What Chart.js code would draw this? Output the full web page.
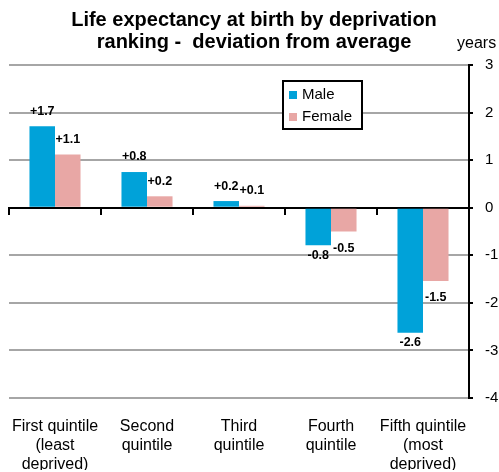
<!DOCTYPE html>
<html>
<head>
<meta charset="utf-8">
<script src="https://cdn.jsdelivr.net/npm/chart.js@4"></script>
<style>
  body { margin: 0; background: #fff; }
  #wrap { position: relative; width: 499px; height: 472px; }
</style>
</head>
<body>
<div id="wrap"><canvas id="myChart"></canvas></div>
<script>
// data
const categories = [
  ["First quintile", "(least", "deprived)"],
  ["Second", "quintile"],
  ["Third", "quintile"],
  ["Fourth", "quintile"],
  ["Fifth quintile", "(most", "deprived)"],
];
const maleValues = [1.71, 0.75, 0.14, -0.79, -2.63];
const femaleValues = [1.12, 0.24, 0.04, -0.5, -1.54];
const maleLabels = ["+1.7", "+0.8", "+0.2", "-0.8", "-2.6"];
const femaleLabels = ["+1.1", "+0.2", "+0.1", "-0.5", "-1.5"];
const yTicks = [3, 2, 1, 0, -1, -2, -3, -4];
const titleLines = ["Life expectancy at birth by deprivation", "ranking -  deviation from average"];
const unitLabel = "years";

const FONT = "'Liberation Sans', Arial, sans-serif";

// value labels above / below each bar
const barLabels = {
  id: "barLabels",
  afterDatasetsDraw(chart) {
    const ctx = chart.ctx;
    ctx.save();
    ctx.font = "bold 12.5px " + FONT;
    ctx.fillStyle = "#000";
    ctx.textAlign = "center";
    ctx.textBaseline = "middle";
    chart.data.datasets.forEach((ds, i) => {
      const meta = chart.getDatasetMeta(i);
      meta.data.forEach((bar, j) => {
        const v = ds.data[j];
        const y = v >= 0 ? bar.y - ds.posOffset : bar.y + ds.negOffset;
        ctx.fillText(ds.valueLabels[j], bar.x, y);
      });
    });
    ctx.restore();
  },
};

// boxed legend inside the plot + "years" unit label
const boxLegend = {
  id: "boxLegend",
  afterDraw(chart) {
    const ctx = chart.ctx;
    ctx.save();
    const bx = 283, by = 81, bw = 79, bh = 48;
    ctx.fillStyle = "#fff";
    ctx.fillRect(bx, by, bw, bh);
    ctx.strokeStyle = "#000";
    ctx.lineWidth = 2;
    ctx.strokeRect(bx, by, bw, bh);
    ctx.font = "15px " + FONT;
    ctx.textBaseline = "middle";
    ctx.textAlign = "left";
    chart.data.datasets.forEach((ds, i) => {
      const cy = by + 14 + i * 22;
      ctx.fillStyle = ds.backgroundColor;
      ctx.fillRect(bx + 6, cy - 4, 8, 8);
      ctx.fillStyle = "#000";
      ctx.fillText(ds.label, bx + 19, cy);
    });
    ctx.font = "16px " + FONT;
    ctx.fillText(unitLabel, 457, 44);
    ctx.restore();
  },
};

const ctx = document.getElementById("myChart").getContext("2d");

const myChart = new Chart(ctx, {
  type: "bar",
  data: {
    labels: categories,
    datasets: [
      {
        label: "Male",
        data: maleValues,
        valueLabels: maleLabels,
        posOffset: 15,
        negOffset: 10,
        backgroundColor: "#00A2D9",
        barPercentage: 1,
        categoryPercentage: 0.555,
        xAxisID: "x",
      },
      {
        label: "Female",
        data: femaleValues,
        valueLabels: femaleLabels,
        posOffset: 15,
        negOffset: 17,
        backgroundColor: "#E8A7A5",
        barPercentage: 1,
        categoryPercentage: 0.555,
        xAxisID: "x",
      },
    ],
  },
  options: {
    responsive: true,
    maintainAspectRatio: false,
    animation: false,
    layout: { padding: { left: 9, right: 0, top: 0, bottom: 2 } },
    plugins: {
      legend: { display: false },
      tooltip: { enabled: false },
      title: {
        display: true,
        text: titleLines,
        color: "#000",
        font: { family: FONT, size: 20, weight: "bold", lineHeight: 1.1 },
        padding: { top: 9, bottom: 12 },
      },
    },
    scales: {
      x: {
        type: "category",
        offset: true,
        grid: { display: false, drawTicks: false },
        border: { display: false },
        afterFit(scale) {
          scale.height = 72;
          scale.paddingLeft = 0;
          scale.paddingRight = 0;
        },
        ticks: {
          color: "#000",
          font: { family: FONT, size: 16, lineHeight: 1.2 },
          padding: 19,
          maxRotation: 0,
          autoSkip: false,
        },
      },
      // zero line with the category tick marks
      x2: {
        type: "category",
        axis: "x",
        position: { y: 0 },
        offset: true,
        afterFit(scale) {
          scale.paddingLeft = 0;
          scale.paddingRight = 0;
        },
        grid: {
          offset: true,
          drawOnChartArea: false,
          drawTicks: true,
          tickLength: 6,
          color: "#000",
          lineWidth: 2,
        },
        border: { color: "#000", width: 2 },
        ticks: { display: false },
      },
      y: {
        position: "right",
        min: Math.min(...yTicks),
        max: Math.max(...yTicks),
        afterFit(scale) {
          scale.width = 30;
        },
        ticks: {
          stepSize: 1,
          color: "#000",
          padding: 12,
          font: { family: FONT, size: 15 },
        },
        grid: {
          color: (c) => (c.tick && c.tick.value === 0 ? "#000" : "#a6a6a6"),
          lineWidth: 2,
          tickColor: "#000",
          tickLength: 4,
        },
        border: { color: "#000", width: 2 },
      },
    },
  },
  plugins: [barLabels, boxLegend],
});
</script>
</body>
</html>
